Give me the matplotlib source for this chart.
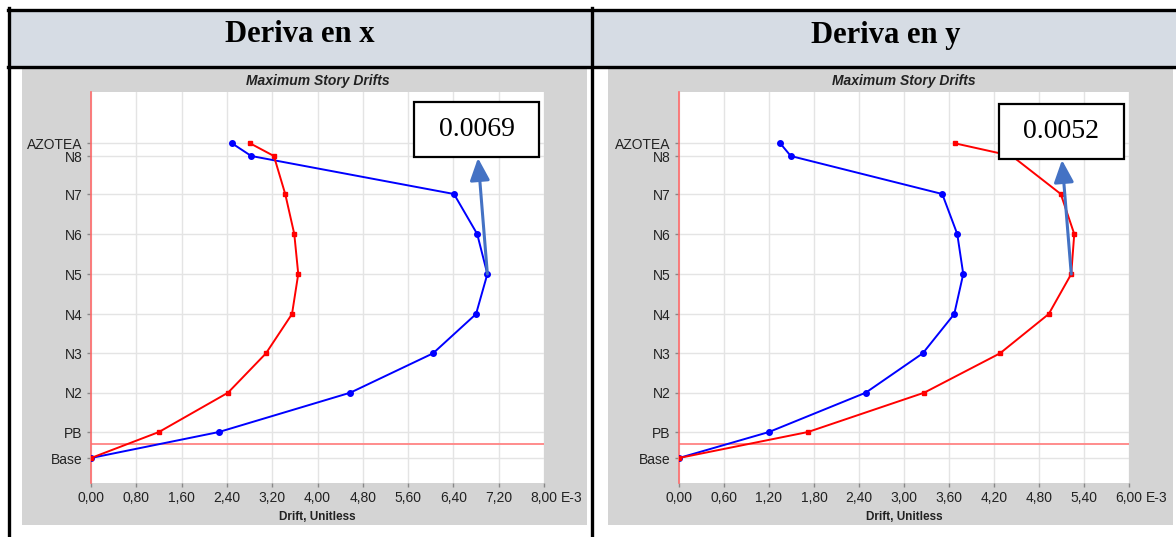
import matplotlib
matplotlib.use('Agg')
import matplotlib.pyplot as plt
from matplotlib.patches import Rectangle
from matplotlib.lines import Line2D

# story levels (elevation, m) and their names
level_names = ['Base', 'PB', 'N2', 'N3', 'N4', 'N5', 'N6', 'N7', 'N8', 'AZOTEA']
levels = [0, 1.95, 4.9, 7.85, 10.8, 13.8, 16.8, 19.8, 22.65, 23.6]

# drifts in E-3, direction x
drift_x_blue = [0, 2.26, 4.58, 6.04, 6.80, 7.00, 6.82, 6.41, 2.83, 2.49]
drift_x_red = [0, 1.20, 2.42, 3.09, 3.55, 3.66, 3.59, 3.43, 3.23, 2.81]
# drifts in E-3, direction y
drift_y_blue = [0, 1.20, 2.49, 3.25, 3.67, 3.79, 3.71, 3.51, 1.49, 1.35]
drift_y_red = [0, 1.72, 3.27, 4.28, 4.93, 5.23, 5.27, 5.09, 4.44, 3.68]

x_ticks_x = [0, 0.8, 1.6, 2.4, 3.2, 4.0, 4.8, 5.6, 6.4, 7.2, 8.0]
x_ticks_y = [0, 0.6, 1.2, 1.8, 2.4, 3.0, 3.6, 4.2, 4.8, 5.4, 6.0]
base_line = 1.05

headers = ['Deriva en x', 'Deriva en y']
max_labels = ['0.0069', '0.0052']

W, H = 1176, 537
fig = plt.figure(figsize=(W / 100, H / 100), dpi=100)
fig.patch.set_facecolor('white')


def rect(x0, y0, x1, y1, **kw):
    fig.patches.append(Rectangle((x0 / W, 1 - y1 / H), (x1 - x0) / W, (y1 - y0) / H,
                                 transform=fig.transFigure, **kw))


def hline(x0, x1, y, **kw):
    fig.add_artist(Line2D([x0 / W, x1 / W], [1 - y / H, 1 - y / H],
                          transform=fig.transFigure, **kw))


def vline(x, y0, y1, **kw):
    fig.add_artist(Line2D([x / W, x / W], [1 - y0 / H, 1 - y1 / H],
                          transform=fig.transFigure, **kw))


# table header + borders
rect(9, 9, W, 67, facecolor='#D6DCE4', edgecolor='none', zorder=-2)
hline(8, W, 9.5, color='black', lw=2.4, zorder=6)
hline(8, W, 66.5, color='black', lw=2.4, zorder=6)
vline(9, 8, H, color='black', lw=2.4, zorder=6)
vline(592, 8, H, color='black', lw=2.4, zorder=6)
for cx, txt in zip([300, 886], headers):
    fig.text(cx / W, 1 - 35 / H, txt, ha='center', va='center',
             family='Liberation Serif', weight='bold', fontsize=22)

panels = [
    dict(gray=(22, 587), plot=(91, 544), xb=drift_x_blue, xr=drift_x_red,
         ticks=x_ticks_x, box=(414, 102, 539, 157), tip=(478, 158), peak=drift_x_blue),
    dict(gray=(608, 1173), plot=(679, 1129), xb=drift_y_blue, xr=drift_y_red,
         ticks=x_ticks_y, box=(999, 104, 1124, 159), tip=(1062, 160), peak=drift_y_red),
]

for p, lab in zip(panels, max_labels):
    g0, g1 = p['gray']
    rect(g0, 68, g1, 525, facecolor='#D4D4D4', edgecolor='none', zorder=-1)
    x0, x1 = p['plot']
    ax = fig.add_axes([x0 / W, 1 - 483 / H, (x1 - x0) / W, (483 - 92) / H])
    ax.set_facecolor('white')
    for s in ['top', 'right', 'bottom']:
        ax.spines[s].set_visible(False)
    ax.spines['left'].set_color('#FF6A6A')
    ax.spines['left'].set_linewidth(1.2)
    ax.set_xlim(p['ticks'][0], p['ticks'][-1])
    ax.set_ylim(-1.875, 27.45)
    ax.set_xticks(p['ticks'])
    ax.set_xticklabels(['{:.2f}'.format(t).replace('.', ',') for t in p['ticks']])
    ax.set_yticks(levels)
    ax.set_yticklabels(level_names)
    ax.tick_params(axis='both', length=3, width=1, color='#888888',
                   labelsize=10, labelcolor='#222222', pad=3)
    for t in ax.get_xticklabels() + ax.get_yticklabels():
        t.set_family('Liberation Sans')
    ax.grid(True, color='#E4E4E4', lw=1)
    ax.set_axisbelow(True)
    ax.axhline(base_line, color='#FF8C8C', lw=1.4, zorder=2)

    ax.plot(p['xb'], levels, color='#0000FF', lw=1.4, marker='o', ms=4, zorder=3)
    ax.plot(p['xr'], levels, color='#FF0000', lw=1.4, marker='s', ms=3.5, zorder=4)

    ax.set_title('Maximum Story Drifts', family='Liberation Sans', weight='bold',
                 style='italic', fontsize=10, color='#222222', pad=5)
    ax.set_xlabel('Drift, Unitless', family='Liberation Sans', weight='bold',
                  fontsize=8.5, color='#222222', labelpad=4)
    ax.annotate('E-3', xy=(1, 0), xycoords='axes fraction', xytext=(17, -15),
                textcoords='offset pixels', ha='left', va='center',
                family='Liberation Sans', fontsize=10, color='#222222')

    # box with max value and arrow
    bx0, by0, bx1, by1 = p['box']
    rect(bx0, by0, bx1, by1, facecolor='white', edgecolor='black', lw=1.6, zorder=7)
    fig.text((bx0 + bx1) / 2 / W, 1 - (by0 + by1) / 2 / H, lab, ha='center',
             va='center', family='Liberation Serif', fontsize=20, zorder=8)
    tx, ty = p['tip']
    ax.annotate('', xy=(tx, H - ty), xycoords='figure pixels',
                xytext=(p['peak'][5], levels[5]), textcoords='data',
                arrowprops=dict(arrowstyle='-|>,head_width=0.4,head_length=0.9',
                                color='#4472C4', lw=2.2, mutation_scale=15,
                                shrinkA=0, shrinkB=0),
                annotation_clip=False, zorder=9)

fig.savefig('out.png', dpi=100)
